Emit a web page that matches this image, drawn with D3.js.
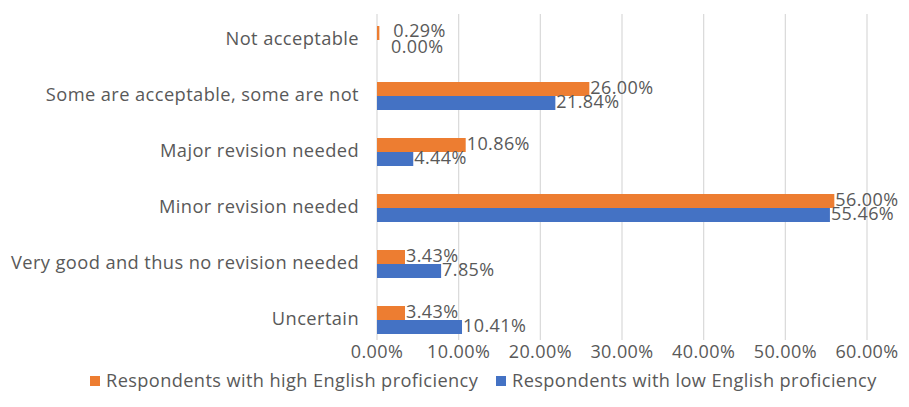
<!DOCTYPE html>
<html>
<head>
<meta charset="utf-8">
<script src="https://cdn.jsdelivr.net/npm/d3@7"></script>
<style>
  body { margin: 0; background: #fff; }
  text { font-family: "Open Sans", sans-serif; fill: #595959; letter-spacing: 0.4px; }
</style>
</head>
<body>
<div id="chart"></div>
<script>
const width = 909, height = 407;

const categories = [
  "Not acceptable",
  "Some are acceptable, some are not",
  "Major revision needed",
  "Minor revision needed",
  "Very good and thus no revision needed",
  "Uncertain"
];
const seriesNames = [
  "Respondents with high English proficiency",
  "Respondents with low English proficiency"
];
const highValues = [0.29, 26.00, 10.86, 56.00, 3.43, 3.43];
const lowValues = [0.00, 21.84, 4.44, 55.46, 7.85, 10.41];
const xTicks = [0, 10, 20, 30, 40, 50, 60];
const colors = ["#ED7D31", "#4472C4"];

const svg = d3.select("#chart")
  .append("svg")
  .attr("width", width)
  .attr("height", height);

const x = d3.scaleLinear()
  .domain([0, 60])
  .range([377, 867]);

const y = d3.scaleBand()
  .domain(categories)
  .range([12, 348])
  .paddingInner(0.5)
  .paddingOuter(0.25);

const sub = d3.scaleBand()
  .domain([0, 1])
  .range([0, y.bandwidth()]);

// gridlines
svg.append("g")
  .selectAll("line")
  .data(xTicks)
  .join("line")
  .attr("x1", d => x(d))
  .attr("x2", d => x(d))
  .attr("y1", 14)
  .attr("y2", 340)
  .attr("stroke", "#d9d9d9")
  .attr("stroke-width", 1.2);

// x tick labels
svg.append("g")
  .selectAll("text")
  .data(xTicks)
  .join("text")
  .attr("x", d => x(d))
  .attr("y", 353)
  .attr("text-anchor", "middle")
  .attr("dominant-baseline", "middle")
  .style("font-size", "18px")
  .text(d => d.toFixed(2) + "%");

// category labels
svg.append("g")
  .selectAll("text")
  .data(categories)
  .join("text")
  .attr("x", 359)
  .attr("y", d => y(d) + y.bandwidth() / 2)
  .attr("text-anchor", "end")
  .attr("dominant-baseline", "middle")
  .style("font-size", "18.3px")
  .text(d => d);

const rows = [];
categories.forEach((c, i) => {
  rows.push({ cat: c, s: 0, v: highValues[i] });
  rows.push({ cat: c, s: 1, v: lowValues[i] });
});

svg.append("g")
  .selectAll("rect")
  .data(rows)
  .join("rect")
  .attr("x", x(0))
  .attr("y", d => y(d.cat) + sub(d.s))
  .attr("width", d => x(d.v) - x(0))
  .attr("height", sub.bandwidth())
  .attr("fill", d => colors[d.s]);

// data labels; the two near-zero labels are nudged apart a little
svg.append("g")
  .selectAll("text")
  .data(rows)
  .join("text")
  .attr("x", d => x(d.v) + (d.v < 1 ? 14 : 1))
  .attr("y", d => y(d.cat) + sub(d.s) + sub.bandwidth() / 2 + (d.v < 1 ? (d.s ? 1 : -1) : 0))
  .attr("dominant-baseline", "middle")
  .style("font-size", "18px")
  .text(d => d.v.toFixed(2) + "%");

// legend
const legend = svg.append("g");
const legendX = [90, 496];
seriesNames.forEach((name, i) => {
  legend.append("rect")
    .attr("x", legendX[i])
    .attr("y", 376)
    .attr("width", 10)
    .attr("height", 10)
    .attr("fill", colors[i]);
  legend.append("text")
    .attr("x", legendX[i] + 16)
    .attr("y", 382)
    .attr("dominant-baseline", "middle")
    .style("font-size", "18.2px")
    .text(name);
});
</script>
</body>
</html>
